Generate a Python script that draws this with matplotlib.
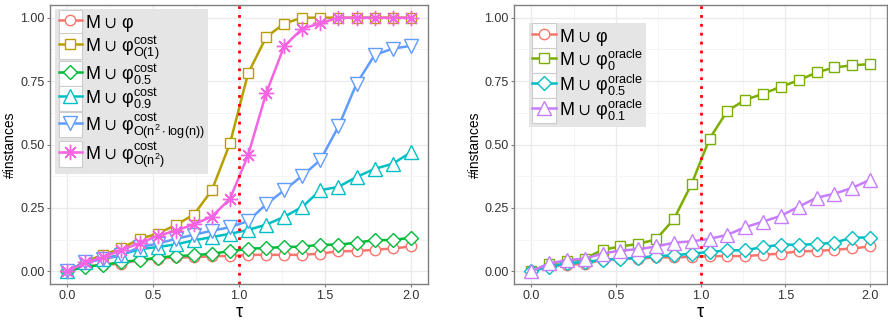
import numpy as np
import matplotlib
matplotlib.use("Agg")
import matplotlib.pyplot as plt
from matplotlib.legend_handler import HandlerLine2D
from matplotlib.patches import Rectangle
from matplotlib.ticker import MultipleLocator
from matplotlib.transforms import blended_transform_factory

plt.rcParams['font.family'] = ['Liberation Sans', 'DejaVu Sans']
plt.rcParams['mathtext.fontset'] = 'custom'
plt.rcParams['mathtext.rm'] = 'Liberation Sans'
plt.rcParams['mathtext.it'] = 'Liberation Sans:italic'
plt.rcParams['mathtext.fallback'] = 'stixsans'

tau = np.linspace(0, 2, 20)

# left panel: cost based
base_l = [0, 0.02, 0.025, 0.03, 0.045, 0.05, 0.055, 0.055, 0.06, 0.06,
          0.065, 0.065, 0.065, 0.065, 0.07, 0.079, 0.08, 0.085, 0.09, 0.098]
cost_o1 = [0, 0.038, 0.066, 0.09, 0.128, 0.148, 0.183, 0.223, 0.32, 0.504,
           0.78, 0.923, 0.977, 1.0, 1.0, 1.0, 1.0, 1.0, 1.0, 1.0]
cost_05 = [0, 0.018, 0.025, 0.037, 0.044, 0.054, 0.06, 0.063, 0.07, 0.079,
           0.089, 0.092, 0.096, 0.097, 0.105, 0.105, 0.113, 0.123, 0.123, 0.133]
cost_09 = [0, 0.038, 0.05, 0.066, 0.087, 0.096, 0.106, 0.122, 0.135, 0.148,
           0.163, 0.184, 0.215, 0.254, 0.32, 0.333, 0.372, 0.404, 0.424, 0.469]
cost_nlog = [0, 0.035, 0.048, 0.063, 0.096, 0.109, 0.128, 0.144, 0.16, 0.174,
             0.198, 0.264, 0.32, 0.377, 0.439, 0.571, 0.74, 0.853, 0.878, 0.889]
cost_n2 = [0, 0.035, 0.055, 0.085, 0.11, 0.14, 0.16, 0.185, 0.216, 0.286,
           0.457, 0.702, 0.888, 0.957, 0.978, 1.0, 1.0, 1.0, 1.0, 1.0]

# right panel: oracle based
base_r = [0, 0.02, 0.025, 0.03, 0.045, 0.05, 0.05, 0.055, 0.055, 0.057,
          0.06, 0.06, 0.06, 0.065, 0.07, 0.079, 0.08, 0.085, 0.09, 0.098]
orc_0 = [0, 0.03, 0.04, 0.05, 0.085, 0.098, 0.108, 0.126, 0.206, 0.346,
         0.523, 0.633, 0.676, 0.70, 0.728, 0.753, 0.784, 0.804, 0.812, 0.817]
orc_05 = [0, 0.018, 0.031, 0.038, 0.044, 0.05, 0.054, 0.06, 0.063, 0.07,
          0.076, 0.083, 0.083, 0.096, 0.105, 0.105, 0.107, 0.113, 0.133, 0.133]
orc_01 = [0, 0.031, 0.044, 0.05, 0.07, 0.082, 0.087, 0.098, 0.113, 0.118,
          0.128, 0.144, 0.174, 0.196, 0.219, 0.255, 0.29, 0.306, 0.329, 0.361]

left_labels = [r'M $\cup$ $\mathrm{\varphi}$',
               r'M $\cup$ $\mathrm{\varphi}^{\mathrm{cost}}_{\mathrm{O(1)}}$',
               r'M $\cup$ $\mathrm{\varphi}^{\mathrm{cost}}_{\mathrm{0.5}}$',
               r'M $\cup$ $\mathrm{\varphi}^{\mathrm{cost}}_{\mathrm{0.9}}$',
               r'M $\cup$ $\mathrm{\varphi}^{\mathrm{cost}}_{\mathrm{O(n^2\cdot log(n))}}$',
               r'M $\cup$ $\mathrm{\varphi}^{\mathrm{cost}}_{\mathrm{O(n^2)}}$']
right_labels = [r'M $\cup$ $\mathrm{\varphi}$',
                r'M $\cup$ $\mathrm{\varphi}^{\mathrm{oracle}}_{\mathrm{0}}$',
                r'M $\cup$ $\mathrm{\varphi}^{\mathrm{oracle}}_{\mathrm{0.5}}$',
                r'M $\cup$ $\mathrm{\varphi}^{\mathrm{oracle}}_{\mathrm{0.1}}$']

left_series = [base_l, cost_o1, cost_05, cost_09, cost_nlog, cost_n2]
left_colors = ['#F8766D', '#B79F00', '#00BA38', '#00BFC4', '#619CFF', '#F564E3']
left_markers = ['o', 's', 'D', '^', 'v', (8, 2, 0)]
left_msize = [7.5, 7.5, 7, 9.5, 9.5, 11]

right_series = [base_r, orc_0, orc_05, orc_01]
right_colors = ['#F8766D', '#7CAE00', '#00BFC4', '#C77CFF']
right_markers = ['o', 's', 'D', '^']
right_msize = [7.5, 7.5, 7, 9.5]


class BoxedHandler(HandlerLine2D):
    def create_artists(self, legend, orig_handle, xdescent, ydescent,
                       width, height, fontsize, trans):
        arts = super().create_artists(legend, orig_handle, xdescent, ydescent,
                                      width, height, fontsize, trans)
        box = Rectangle((-xdescent, -ydescent - 2), width, height + 4,
                        facecolor='white', edgecolor='#CCCCCC', lw=0.8,
                        transform=trans)
        return [box] + arts


def panel(ax, series, colors, markers, msizes, labels, anchor):
    for ys, c, m, ms, lab in zip(series, colors, markers, msizes, labels):
        ax.plot(tau, ys, color=c, lw=1.8, marker=m, markersize=ms,
                markerfacecolor='white', markeredgecolor=c,
                markeredgewidth=1.0, label=lab)
    ax.axvline(1.0, color='red', ls=(0, (1, 2.2)), lw=2)
    ax.set_xlim(-0.1, 2.1)
    ax.set_ylim(-0.05, 1.05)
    ax.xaxis.set_major_locator(MultipleLocator(0.5))
    ax.xaxis.set_minor_locator(MultipleLocator(0.25))
    ax.yaxis.set_major_locator(MultipleLocator(0.25))
    ax.yaxis.set_minor_locator(MultipleLocator(0.125))
    ax.xaxis.set_major_formatter('{x:.1f}')
    ax.yaxis.set_major_formatter('{x:.2f}')
    ax.grid(which='major', color='#EBEBEB', lw=1.0)
    ax.grid(which='minor', color='#F4F4F4', lw=0.6)
    ax.set_axisbelow(True)
    for s in ax.spines.values():
        s.set_color('#7F7F7F')
        s.set_linewidth(1.0)
    ax.tick_params(which='major', labelsize=9, colors='#333333',
                   length=2.5, width=0.8, pad=1.5)
    ax.tick_params(which='minor', length=0)
    ax.tick_params(axis='both', which='major', color='#7F7F7F')
    ax.set_xlabel('τ', fontsize=13, va='bottom')
    ax.set_ylabel('#instances', fontsize=10, va='center')
    ax.xaxis.set_label_coords(0.5, 0.0,
                              transform=blended_transform_factory(ax.transAxes, fig.transFigure))
    ax.yaxis.set_label_coords(-0.106, 0.5)
    leg = ax.legend(loc='upper left', bbox_to_anchor=anchor, borderaxespad=0,
                    fontsize=13, frameon=True, fancybox=False,
                    handlelength=1.3, handleheight=1.3, labelspacing=0.0,
                    handletextpad=0.15, borderpad=0.2,
                    handler_map={matplotlib.lines.Line2D: BoxedHandler()})
    leg.get_frame().set_facecolor('#E5E5E5')
    leg.get_frame().set_edgecolor('none')
    leg.get_frame().set_alpha(1)


fig = plt.figure(figsize=(8.88, 3.21), dpi=100)
ax1 = fig.add_axes([0.0563, 37 / 321, 0.4257, 279 / 321])
ax2 = fig.add_axes([0.5792, 37 / 321, 0.4197, 279 / 321])

panel(ax1, left_series, left_colors, left_markers, left_msize, left_labels,
      (0.013, 0.986))
panel(ax2, right_series, right_colors, right_markers, right_msize, right_labels,
      (0.039, 0.937))

plt.savefig("out.png", dpi=100)
